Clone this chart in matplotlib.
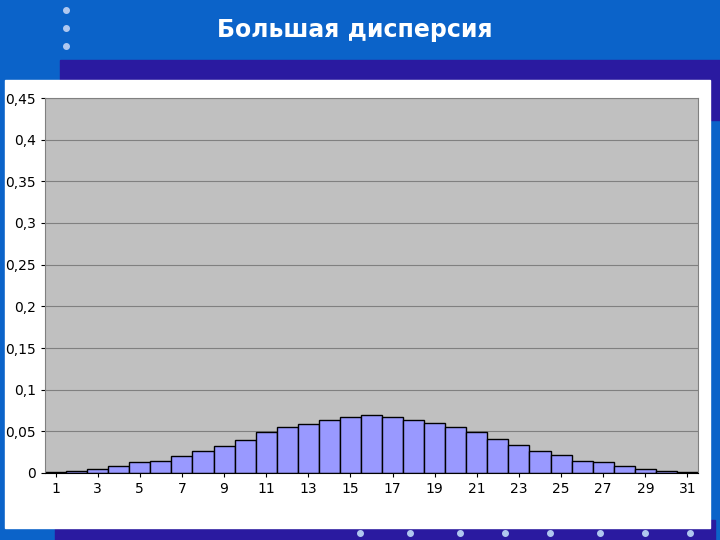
import matplotlib
matplotlib.use("Agg")
import matplotlib.pyplot as plt
from matplotlib.patches import Rectangle
from matplotlib.ticker import FuncFormatter

x = list(range(1, 32))
p = [0.001, 0.003, 0.005, 0.008, 0.013, 0.015, 0.021, 0.027, 0.033, 0.040,
     0.049, 0.055, 0.059, 0.064, 0.067, 0.070, 0.067, 0.064, 0.060, 0.055,
     0.049, 0.041, 0.034, 0.027, 0.022, 0.015, 0.013, 0.008, 0.005, 0.003, 0.001]
yticks = [0, 0.05, 0.1, 0.15, 0.2, 0.25, 0.3, 0.35, 0.4, 0.45]
title = "Большая дисперсия"

fig = plt.figure(figsize=(7.2, 5.4), dpi=100)
fig.patch.set_facecolor("#0b63c9")
bg = fig.add_axes([0, 0, 1, 1]); bg.axis("off")
bg.set_xlim(0, 720); bg.set_ylim(540, 0)
bg.add_patch(Rectangle((60, 60), 660, 60, color="#2a1aa0"))
bg.add_patch(Rectangle((55, 520), 660, 20, color="#2a1aa0"))
bg.add_patch(Rectangle((5, 80), 705, 448, color="white"))
for yy in [10, 28, 46]:
    bg.plot(66, yy, "o", ms=4, color="#b0c8f0")
for xx in [360, 410, 460, 505, 550, 600, 645, 690]:
    bg.plot(xx, 533, "o", ms=4, color="#b0c8f0")
bg.text(355, 30, title, color="white", fontsize=17, fontweight="bold",
        ha="center", va="center")

ax = fig.add_axes([45 / 720, 1 - 473 / 540, 653 / 720, 375 / 540])
ax.set_facecolor("#c0c0c0")
ax.bar(x, p, width=1.0, color="#9999ff", edgecolor="black", linewidth=1)
ax.set_xlim(0.5, 31.5)
ax.set_ylim(0, 0.45)
ax.set_yticks(yticks)
ax.yaxis.set_major_formatter(FuncFormatter(lambda v, _: ("%g" % v).replace(".", ",")))
ax.set_xticks(x[::2])
ax.grid(axis="y", color="#808080", linewidth=0.8)
ax.set_axisbelow(True)
ax.tick_params(labelsize=10, length=3)
for s in ax.spines.values():
    s.set_color("#808080")
ax.spines["bottom"].set_color("black")
fig.savefig("out.png")
